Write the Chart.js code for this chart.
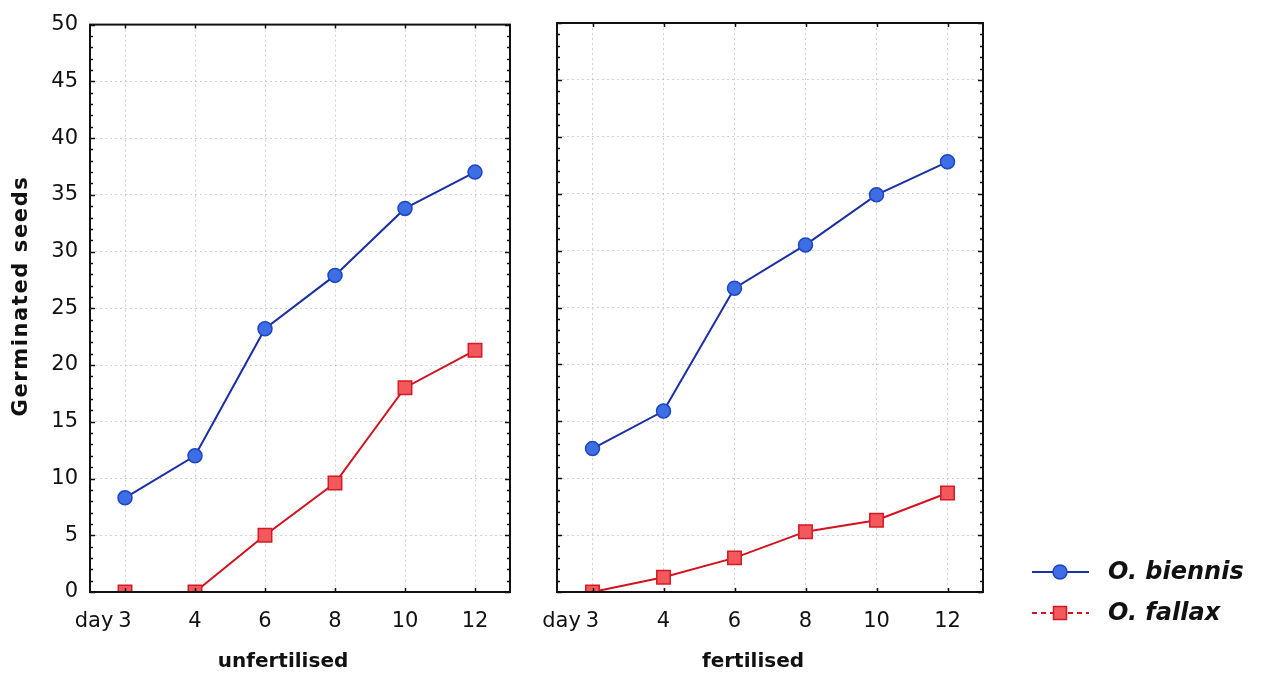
<!DOCTYPE html>
<html>
<head>
<meta charset="utf-8">
<script src="https://cdn.jsdelivr.net/npm/chart.js@4.4.1/dist/chart.umd.min.js"></script>
<style>
  html, body { margin: 0; padding: 0; background: #fff; }
  #wrap { position: relative; width: 1266px; height: 677px; overflow: hidden; }
  #c1 { position: absolute; left: 0; top: 0; }
  #c2 { position: absolute; left: 530px; top: 0; }
</style>
</head>
<body>
<div id="wrap">
  <canvas id="c1" width="530" height="677"></canvas>
  <canvas id="c2" width="736" height="677"></canvas>
</div>
<script>
// Days after sowing (category axis)
const days = ['3', '4', '6', '8', '10', '12'];
const dayPrefix = 'day';

// Germinated seeds per species and treatment
const biennisUnfertilised = [8.3, 12.0, 23.2, 27.9, 33.8, 37.0];
const fallaxUnfertilised  = [0, 0, 5.0, 9.6, 18.0, 21.3];
const biennisFertilised   = [12.6, 15.9, 26.7, 30.5, 34.9, 37.8];
const fallaxFertilised    = [0, 1.3, 3.0, 5.3, 6.3, 8.7];

const seriesNames = ['O. biennis', 'O. fallax'];
const panelTitles = ['unfertilised', 'fertilised'];
const yTitle = 'Germinated seeds';
const yMin = 0, yMax = 50, yStep = 5;

const FONT = '"DejaVu Sans", Lato, sans-serif';
const TICK_SIZE = 21;
const INK = '#111';
const GRID = 'rgba(165,170,190,0.55)';

const STYLE = [
  { line: '#1b2fa6', fill: '#3d6ee3', edge: '#1e45c4', shape: 'circle', r: 7 },
  { line: '#d2131f', fill: '#f2585c', edge: '#d41a25', shape: 'rect', r: 9.5 }
];

function dataset(label, data, s) {
  return {
    label, data,
    borderColor: s.line,
    borderWidth: 2,
    pointStyle: s.shape,
    pointRadius: s.r,
    pointBackgroundColor: s.fill,
    pointBorderColor: s.edge,
    pointBorderWidth: 1.5,
    tension: 0,
    clip: 0
  };
}

// Box frame with inward major/minor ticks on all four sides
const framePlugin = {
  id: 'frame',
  afterDatasetsDraw(chart) {
    const { ctx, chartArea: a, scales: { x, y } } = chart;
    ctx.save();
    ctx.strokeStyle = INK;
    ctx.lineWidth = 1.5;
    ctx.beginPath();
    for (let v = yMin; v <= yMax; v++) {
      const py = Math.round(y.getPixelForValue(v)) + 0.5;
      const len = v % yStep === 0 ? 5 : 3;
      ctx.moveTo(a.left, py); ctx.lineTo(a.left + len, py);
      ctx.moveTo(a.right, py); ctx.lineTo(a.right - len, py);
    }
    days.forEach((d, i) => {
      const px = Math.round(x.getPixelForValue(i)) + 0.5;
      ctx.moveTo(px, a.top); ctx.lineTo(px, a.top + 4);
      ctx.moveTo(px, a.bottom); ctx.lineTo(px, a.bottom - 4);
    });
    ctx.stroke();
    ctx.lineWidth = 2;
    ctx.strokeRect(a.left, a.top, a.right - a.left, a.bottom - a.top);
    ctx.restore();
  }
};

// Texts: "day" prefix before the first tick, panel title, y title, legend
function textPlugin(panel) {
  return {
    id: 'texts' + panel,
    afterDraw(chart) {
      const { ctx, chartArea: a, scales: { x } } = chart;
      ctx.save();
      ctx.fillStyle = INK;
      // "day" before the first category label, placed like the label itself
      const item = x.getLabelItems()[0];
      ctx.font = TICK_SIZE + 'px ' + FONT;
      const w0 = ctx.measureText(days[0]).width;
      ctx.textBaseline = item.options.textBaseline;
      ctx.textAlign = 'right';
      ctx.fillText(dayPrefix, item.options.translation[0] - w0 / 2 - 5,
                   item.options.translation[1] + item.textOffset);
      // panel title
      ctx.textBaseline = 'middle';
      ctx.font = 'bold 20px ' + FONT;
      ctx.textAlign = 'center';
      ctx.fillText(panelTitles[panel], (a.left + a.right) / 2 - 17, 662);
      if (panel === 0) {
        ctx.save();
        ctx.translate(22, 296);
        ctx.rotate(-Math.PI / 2);
        ctx.font = 'bold 21px ' + FONT;
        ctx.letterSpacing = '1.6px';
        ctx.fillText(yTitle, 0, 0);
        ctx.restore();
      } else {
        const off = 530;
        const rows = [572, 613];
        rows.forEach((ry, i) => {
          const s = STYLE[i];
          ctx.save();
          ctx.strokeStyle = s.line;
          ctx.lineWidth = 2;
          if (i === 1) ctx.setLineDash([5, 4]);
          ctx.beginPath();
          ctx.moveTo(1032 - off, ry); ctx.lineTo(1089 - off, ry);
          ctx.stroke();
          ctx.setLineDash([]);
          ctx.fillStyle = s.fill;
          ctx.strokeStyle = s.edge;
          ctx.lineWidth = 1.5;
          ctx.beginPath();
          if (s.shape === 'circle') ctx.arc(1060 - off, ry, s.r, 0, Math.PI * 2);
          else ctx.rect(1060 - off - 6.5, ry - 6.5, 13, 13);
          ctx.fill(); ctx.stroke();
          ctx.restore();
          ctx.font = 'italic bold 24px ' + FONT;
          ctx.textAlign = 'left';
          ctx.fillText(seriesNames[i], 1108 - off, ry + 1);
        });
      }
      ctx.restore();
    }
  };
}

function makePanel(canvasId, panel, dataA, dataB, yWidth, padRight) {
  return new Chart(document.getElementById(canvasId), {
    type: 'line',
    data: {
      labels: days,
      datasets: [
        dataset(seriesNames[0], dataA, STYLE[0]),
        dataset(seriesNames[1], dataB, STYLE[1])
      ]
    },
    options: {
      responsive: false,
      animation: false,
      devicePixelRatio: 1,
      layout: { padding: { top: 23, right: padRight, bottom: 0, left: 0 } },
      plugins: { legend: { display: false }, tooltip: { enabled: false } },
      scales: {
        x: {
          type: 'category',
          offset: true,
          grid: { color: GRID, lineWidth: 1, drawTicks: false },
          border: { display: false, dash: [2, 3] },
          ticks: { font: { family: FONT, size: TICK_SIZE }, color: INK, padding: 17, maxRotation: 0, autoSkip: false },
          afterFit: s => { s.height = 85; }
        },
        y: {
          min: yMin, max: yMax,
          grid: { color: GRID, lineWidth: 1, drawTicks: false },
          border: { display: false, dash: [2, 3] },
          ticks: { stepSize: yStep, display: panel === 0, font: { family: FONT, size: TICK_SIZE }, color: INK, padding: 12 },
          afterFit: s => { s.width = yWidth; }
        }
      }
    },
    plugins: [framePlugin, textPlugin(panel)]
  });
}

makePanel('c1', 0, biennisUnfertilised, fallaxUnfertilised, 90, 20);
makePanel('c2', 1, biennisFertilised, fallaxFertilised, 27, 283);
</script>
</body>
</html>
